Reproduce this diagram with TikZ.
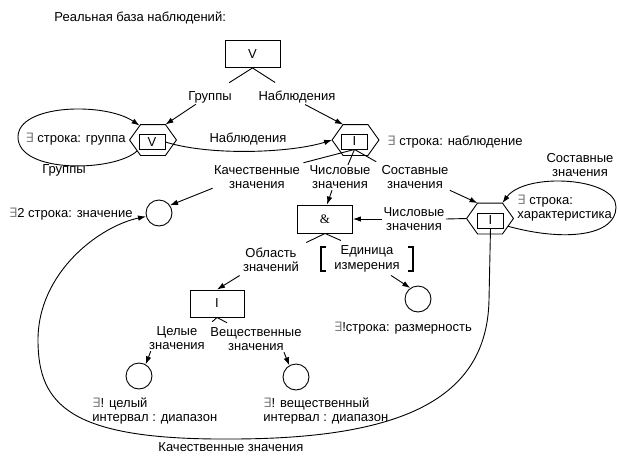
\documentclass[tikz,border=0pt]{standalone}
\usepackage{fontspec}
\setmainfont{Liberation Sans}
\newfontfamily\dejavu{DejaVu Sans}
\newfontfamily\serifamp{Liberation Serif}
\usetikzlibrary{arrows.meta,calc}
\newcommand{\Ex}{{\dejavu\color{black!50}∃}}
\newcommand{\hexdraw}[1]{\draw (#1.west) -- ([xshift=11pt]#1.north west) -- ([xshift=-11pt]#1.north east) -- (#1.east) -- ([xshift=-11pt]#1.south east) -- ([xshift=11pt]#1.south west) -- cycle;}
\begin{document}
\begin{tikzpicture}[x=1pt,y=-1pt,
  font=\fontsize{13}{14.5}\selectfont,
  line width=0.9pt,
  >={Latex[length=8pt,width=5.5pt]},
  bigbox/.style={draw, minimum width=55pt, minimum height=27pt, inner sep=0pt},
  inbox/.style={draw, minimum width=26pt, minimum height=15pt, inner sep=0pt},
  hexarea/.style={minimum width=46pt, minimum height=30pt, inner sep=0pt},
  circ/.style={draw, circle, minimum size=26pt, inner sep=0pt},
  lbl/.style={inner sep=1pt, align=center},
  lbll/.style={inner sep=1pt, align=left}]
\useasboundingbox (0,0) rectangle (618,464);

% title
\node[lbll, anchor=west] (title) at (53,18) {Реальная база наблюдений:};

% top box
\node[bigbox] (topV) at (252.5,54) {V};
\node[lbl] (lGt) at (210,97) {Группы};
\node[lbl] (lNt) at (297,97) {Наблюдения};

% hexagons
\node[hexarea] (h1) at (153,140) {};
\hexdraw{h1}
\node[inbox] (r1) at (152,142) {V};
\node[hexarea] (h2) at (355.5,140) {};
\hexdraw{h2}
\node[inbox] (r2) at (354.5,141.5) {I};
\node[hexarea] (h3) at (490,218.5) {};
\hexdraw{h3}
\node[inbox] (r3) at (490.5,220.5) {I};

% hex labels
\node[lbll, anchor=east] (e1) at (127,139) {\Ex\ строка: группа};
\node[lbll, anchor=west] (e2) at (386,142) {\Ex\ строка: наблюдение};
\node[lbll, anchor=west] (e3) at (516,208) {\Ex\ строка:\\характеристика};
\node[lbl] (lGl) at (64,170) {Группы};
\node[lbl] (lN) at (248,139) {Наблюдения};
\node[lbl] (lSl) at (580,165) {Составные\\значения};

% labels below hex2
\node[lbl] (lK) at (257,177) {Качественные\\значения};
\node[lbl] (lC) at (340,177) {Числовые\\значения};
\node[lbl] (lS) at (415,177) {Составные\\значения};
\node[lbl] (lC2) at (414,219) {Числовые\\значения};

% & box
\node[bigbox, minimum height=28pt] (amp) at (325,219) {\serifamp\&};
\node[lbl] (lO) at (271,260) {Область\\значений};
\node[lbl, inner xsep=13pt, inner ysep=1pt] (lE) at (367,259) {Единица\\измерения};
\draw[line width=2pt] ([xshift=5pt,yshift=-3pt]lE.north west) -- ([yshift=-3pt]lE.north west) -- ([yshift=3pt]lE.south west) -- ([xshift=5pt,yshift=3pt]lE.south west);
\draw[line width=2pt] ([xshift=-5pt,yshift=-3pt]lE.north east) -- ([yshift=-3pt]lE.north east) -- ([yshift=3pt]lE.south east) -- ([xshift=-5pt,yshift=3pt]lE.south east);

% circles
\node[circ] (c1) at (159,213) {};
\node[lbll, anchor=east] (ec1) at (134,214) {\Ex2 строка: значение};
\node[circ] (c2) at (418,299) {};
\node[lbl] (ec2) at (403,328) {\Ex!строка: размерность};

% I box
\node[bigbox, minimum width=54pt] (Ib) at (217,303.5) {I};
\node[lbl] (lZ) at (177,338) {Целые\\значения};
\node[lbl] (lV) at (256,339) {Вещественные\\значения};
\node[circ] (c3) at (139,376) {};
\node[circ] (c4) at (296,377) {};
\node[lbll, anchor=west] (ec3) at (91,411) {\Ex! целый\\интервал : диапазон};
\node[lbll, anchor=west] (ec4) at (262,411) {\Ex! вещественный\\интервал : диапазон};
\node[lbl] (lKb) at (231,447) {Качественные значения};

% connectors: top
\draw (topV.south) -- ([xshift=-4pt,yshift=7pt]lGt.north east);
\draw (topV.south) -- ([xshift=18pt,yshift=7pt]lNt.north west);
\draw[->] ([xshift=9pt]lGt.south west) -- ([xshift=-11pt]h1.north east);
\draw[->] ([xshift=8pt]lNt.south) -- ([xshift=11pt]h2.north west);

% loop around hex1
\draw[->] ($(h1.west)!0.7!([xshift=11pt]h1.south west)$) .. controls (115,172) and (18,174) .. (18,137) .. controls (18,104) and (105,102) .. ([xshift=10pt,yshift=-1pt]h1.north west);
% hex1 -> hex2
\draw[->] (r1.east) .. controls (210,156) and (290,153) .. (h2.west);

% hex2 -> labels
\draw (r2.south) -- ([xshift=2pt,yshift=1pt]lK.north east);
\draw (r2.south) -- ([xshift=8pt,yshift=-1pt]lC.north);
\draw (r2.south) -- ([xshift=-4pt,yshift=2pt]lS.north west);
\draw[->] ([yshift=2pt]lK.south west) -- (c1.35);
\draw[->] ([xshift=-8pt]lC.south) -- ([xshift=2pt]amp.north);
\draw[->] (lS.south east) -- ([xshift=11pt]h3.north west);

% loop around hex3
\draw[->] ($(h3.east)!0.5!([xshift=-11pt]h3.south east)$) .. controls (565,242) and (616,236) .. (616,207) .. controls (616,177) and (525,172) .. ([xshift=-11pt]h3.north east);

% hex3 -> & box
\draw (h3.west) -- (lC2.east);
\draw[->] (lC2.west) -- (amp.east);

% & box -> labels
\draw (amp.south) -- ([xshift=6pt,yshift=4pt]lO.north east);
\draw (amp.south) -- ([xshift=20pt,yshift=4pt]lE.north west);
\draw[->] ([xshift=-2pt,yshift=-2pt]lO.south west) -- (Ib.north);
\draw[->] ([xshift=-22pt,yshift=-2pt]lE.south east) -- (c2.125);

% I box -> labels
\draw (Ib.south) -- ([xshift=6pt,yshift=3pt]lZ.north east);
\draw (Ib.south) -- ([xshift=18pt,yshift=3pt]lV.north west);
\draw[->] ([xshift=3pt]lZ.south west) -- (c3.60);
\draw[->] ([xshift=-19pt]lV.south east) -- (c4.120);

% big loop
\draw[->] (r3.south) -- (489,300) .. controls (487,400) and (400,439) .. (230,439) .. controls (70,440) and (38,405) .. (38,340) .. controls (38,272) and (100,226) .. (c1.195);
\end{tikzpicture}
\end{document}
